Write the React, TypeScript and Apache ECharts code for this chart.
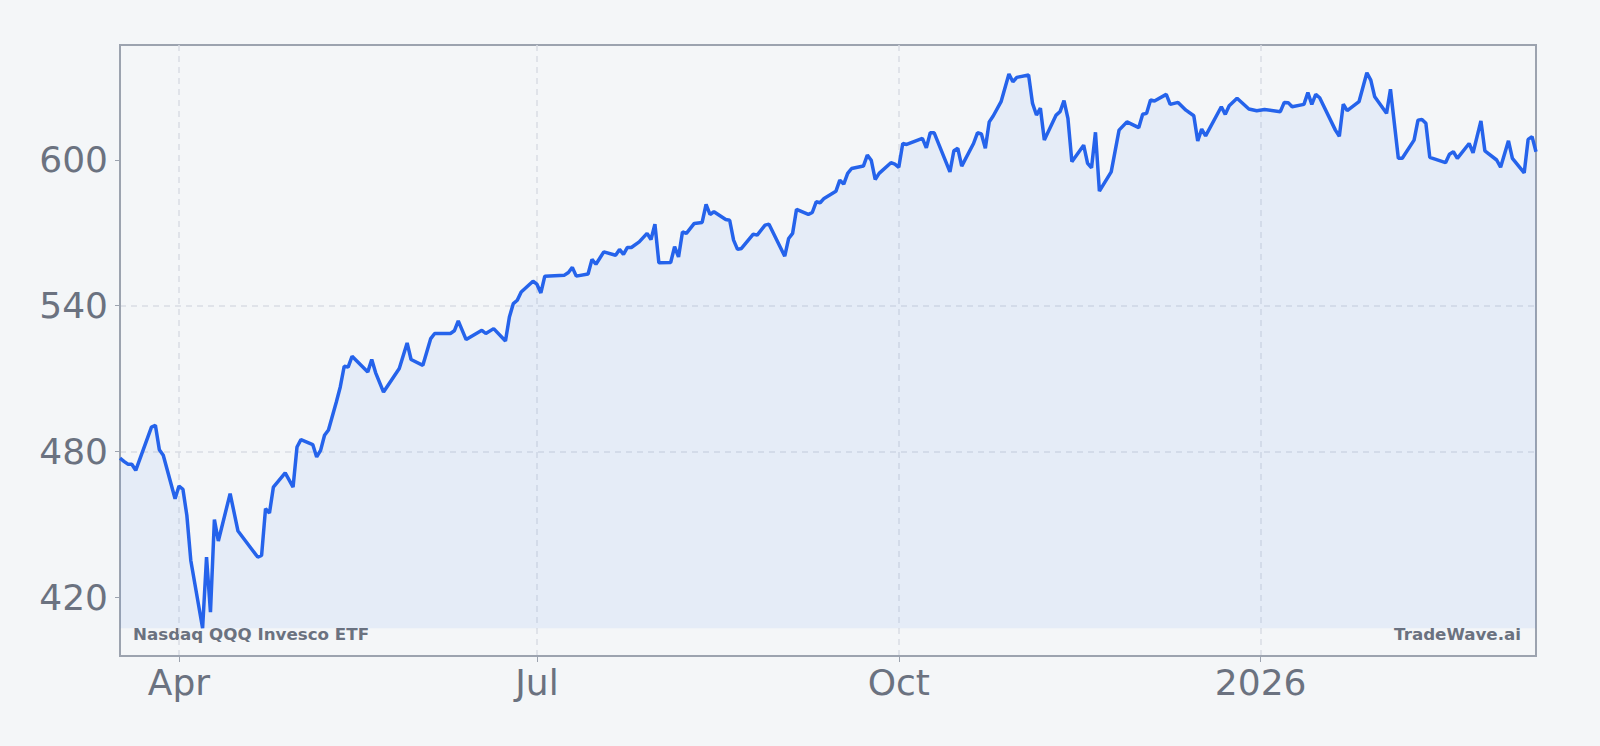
import React, { useEffect, useRef } from "react";
import * as echarts from "echarts";

const dates: string[] = [
  "2025-03-17","2025-03-18","2025-03-19","2025-03-20","2025-03-21","2025-03-25","2025-03-26","2025-03-27","2025-03-28","2025-03-31",
  "2025-04-01","2025-04-02","2025-04-03","2025-04-04","2025-04-07","2025-04-08","2025-04-09","2025-04-10","2025-04-11","2025-04-14",
  "2025-04-16","2025-04-21","2025-04-22","2025-04-23","2025-04-24","2025-04-25","2025-04-28","2025-04-30","2025-05-01","2025-05-02",
  "2025-05-05","2025-05-06","2025-05-07","2025-05-08","2025-05-09","2025-05-11","2025-05-12","2025-05-13","2025-05-14","2025-05-15",
  "2025-05-19","2025-05-20","2025-05-21","2025-05-23","2025-05-27","2025-05-29","2025-05-30","2025-06-02","2025-06-04","2025-06-05",
  "2025-06-09","2025-06-10","2025-06-11","2025-06-13","2025-06-17","2025-06-18","2025-06-20","2025-06-23","2025-06-24","2025-06-25",
  "2025-06-26","2025-06-27","2025-06-30","2025-07-01","2025-07-02","2025-07-03","2025-07-08","2025-07-09","2025-07-10","2025-07-11",
  "2025-07-14","2025-07-15","2025-07-16","2025-07-18","2025-07-21","2025-07-22","2025-07-23","2025-07-24","2025-07-25","2025-07-27",
  "2025-07-29","2025-07-30","2025-07-31","2025-08-01","2025-08-04","2025-08-05","2025-08-06","2025-08-07","2025-08-08","2025-08-10",
  "2025-08-12","2025-08-13","2025-08-14","2025-08-15","2025-08-18","2025-08-19","2025-08-20","2025-08-21","2025-08-22","2025-08-25",
  "2025-08-26","2025-08-28","2025-08-29","2025-09-02","2025-09-03","2025-09-04","2025-09-05","2025-09-08","2025-09-09","2025-09-10",
  "2025-09-11","2025-09-12","2025-09-15","2025-09-16","2025-09-17","2025-09-18","2025-09-19","2025-09-22","2025-09-23","2025-09-24",
  "2025-09-25","2025-09-26","2025-09-29","2025-09-30","2025-10-01","2025-10-02","2025-10-03","2025-10-07","2025-10-08","2025-10-09",
  "2025-10-10","2025-10-14","2025-10-15","2025-10-16","2025-10-17","2025-10-20","2025-10-21","2025-10-22","2025-10-23","2025-10-24",
  "2025-10-25","2025-10-27","2025-10-29","2025-10-30","2025-10-31","2025-11-03","2025-11-04","2025-11-05","2025-11-06","2025-11-07",
  "2025-11-10","2025-11-11","2025-11-12","2025-11-13","2025-11-14","2025-11-17","2025-11-18","2025-11-19","2025-11-20","2025-11-21",
  "2025-11-24","2025-11-26","2025-11-28","2025-12-01","2025-12-02","2025-12-03","2025-12-04","2025-12-05","2025-12-08","2025-12-09",
  "2025-12-11","2025-12-13","2025-12-15","2025-12-16","2025-12-17","2025-12-18","2025-12-22","2025-12-23","2025-12-24","2025-12-26",
  "2025-12-29","2025-12-31","2026-01-02","2026-01-06","2026-01-07","2026-01-08","2026-01-09","2026-01-12","2026-01-13","2026-01-14",
  "2026-01-15","2026-01-16","2026-01-20","2026-01-21","2026-01-22","2026-01-23","2026-01-26","2026-01-28","2026-01-29","2026-01-30",
  "2026-02-02","2026-02-03","2026-02-05","2026-02-06","2026-02-09","2026-02-10","2026-02-11","2026-02-12","2026-02-13","2026-02-17",
  "2026-02-18","2026-02-19","2026-02-20","2026-02-23","2026-02-24","2026-02-26","2026-02-27","2026-03-02","2026-03-03","2026-03-05",
  "2026-03-06","2026-03-09","2026-03-10","2026-03-11","2026-03-12",
];

const closes: number[] = [
  477.2,475.9,474.7,474.7,472.2,490.0,490.7,480.7,478.4,460.5,
  465.7,464.4,453.6,435.1,407.2,436.5,413.8,451.9,443.1,462.6,
  447.2,436.5,437.2,456.4,454.6,465.3,471.1,465.3,481.8,484.8,
  482.8,477.7,480.4,486.6,488.8,500.3,506.5,515.0,514.7,519.1,
  512.7,517.8,512.3,504.4,514.1,524.6,517.8,515.4,526.4,528.5,
  528.5,529.6,533.7,526.0,529.8,528.5,530.5,525.4,535.3,540.8,
  542.2,545.6,550.0,548.8,545.2,552.1,552.5,553.6,555.7,552.1,
  553.0,559.0,557.0,562.1,560.7,563.1,561.1,563.9,563.9,566.2,
  569.7,567.2,573.5,557.6,557.7,564.2,560.0,570.3,569.7,573.8,
  574.2,581.6,577.5,578.6,575.4,575.1,566.9,563.1,563.5,569.4,
  569.0,573.1,573.5,560.3,567.6,569.7,579.6,577.5,578.3,582.7,
  582.3,584.1,587.0,591.6,590.0,594.4,596.4,597.4,601.9,599.8,
  591.9,594.4,598.8,598.2,596.9,606.7,606.3,608.8,604.9,611.1,
  611.1,595.0,603.7,604.7,597.4,606.7,611.1,610.6,604.7,615.6,
  618.0,623.9,635.3,632.1,633.9,634.9,623.2,618.4,621.2,608.1,
  618.4,619.8,624.3,617.0,599.2,606.0,598.5,596.7,611.3,587.1,
  595.0,612.2,615.6,613.2,618.7,619.1,624.6,624.2,626.9,622.8,
  623.6,620.4,618.1,607.7,612.6,609.8,621.8,618.7,622.2,625.3,
  620.9,620.2,620.7,619.8,623.6,623.5,621.8,622.8,627.7,622.8,
  626.9,625.5,612.2,609.7,622.9,620.2,623.9,635.8,632.8,625.9,
  619.1,629.0,600.6,600.6,608.1,616.3,616.6,615.0,601.0,598.8,
  602.3,603.3,600.6,606.7,602.9,616.0,603.7,599.9,596.9,607.8,
  600.6,594.6,608.4,609.5,603.3,
];

const yTicks: number[] = [420, 480, 540, 600];
const monthNames: string[] = ["Jan","Feb","Mar","Apr","May","Jun","Jul","Aug","Sep","Oct","Nov","Dec"];
const titleText = "Nasdaq QQQ Invesco ETF";
const brandText = "TradeWave.ai";

export default function App() {
  const ref = useRef<HTMLDivElement>(null);
  useEffect(() => {
    if (!ref.current) return;
    const chart = echarts.init(ref.current, undefined, { renderer: "svg" });
    const minV = Math.min(...closes);
    const gray = "#6b7280";
    const gridCol = "#d9dde4";
    const borderCol = "#9ca3af";
    const DAY = 86400000;
    chart.setOption({
      animation: false,
      backgroundColor: "#f4f6f8",
      textStyle: { fontFamily: "DejaVu Sans" },
      grid: { left: 120, right: 64, top: 45, bottom: 90, show: true, borderColor: borderCol, borderWidth: 2, backgroundColor: "transparent", containLabel: false, outerBoundsMode: "none" },
      xAxis: {
        type: "time",
        min: "dataMin",
        max: "dataMax",
        splitNumber: 3,
        minInterval: 100 * DAY,
        maxInterval: 110 * DAY,
        axisLine: { show: true, lineStyle: { color: borderCol, width: 2 } },
        axisTick: { show: true, length: 6, lineStyle: { color: borderCol, width: 1 } },
        splitLine: { show: true, showMinLine: false, showMaxLine: false, lineStyle: { color: gridCol, type: [6, 5], width: 1.5 } },
        axisLabel: {
          fontSize: 36,
          color: gray,
          margin: 8,
          fontFamily: "DejaVu Sans",
          formatter: (val: number) => {
            const d = new Date(val);
            if (d.getDate() !== 1) return "";
            return d.getMonth() === 0 ? String(d.getFullYear()) : monthNames[d.getMonth()];
          },
        },
      },
      yAxis: {
        type: "value",
        min: (e: any) => e.min - 0.05 * (e.max - e.min),
        max: (e: any) => e.max + 0.05 * (e.max - e.min),
        axisLine: { show: true, lineStyle: { color: borderCol, width: 2 } },
        axisTick: { show: true, length: 5, customValues: yTicks, lineStyle: { color: borderCol, width: 1 } },
        splitLine: { show: true, showMinLine: false, showMaxLine: false, lineStyle: { color: gridCol, type: [6, 5], width: 1.5 } },
        axisLabel: { fontSize: 36, color: gray, margin: 12, customValues: yTicks, fontFamily: "DejaVu Sans" },
      },
      series: [
        {
          type: "line",
          data: dates.map((d, i) => [d, closes[i]]),
          showSymbol: false,
          symbol: "none",
          lineStyle: { color: "#2563eb", width: 3.5 },
          itemStyle: { color: "#2563eb" },
          areaStyle: { color: "rgba(59,130,246,0.11)", origin: minV },
        },
      ],
      graphic: [
        { type: "text", left: 133, top: 625, style: { text: titleText, fontSize: 16.7, fontWeight: "bold", fill: gray, fontFamily: "DejaVu Sans" } },
        { type: "text", right: 79, top: 625, style: { text: brandText, fontSize: 16.7, fontWeight: "bold", fill: gray, fontFamily: "DejaVu Sans" } },
      ],
    });
    return () => chart.dispose();
  }, []);
  return <div ref={ref} style={{ position: "fixed", left: 0, top: 0, width: 1600, height: 746 }} />;
}
